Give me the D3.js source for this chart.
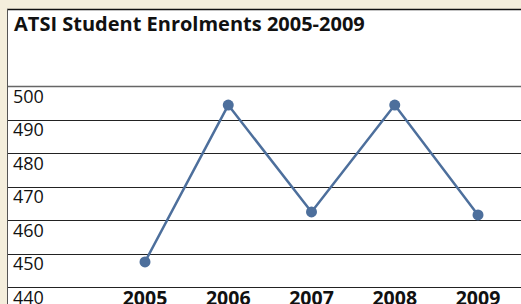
<!DOCTYPE html>
<html>
<head>
<meta charset="utf-8">
<script src="https://cdn.jsdelivr.net/npm/d3@7"></script>
<style>
  html, body { margin: 0; padding: 0; background: #fff; }
  svg { display: block; }
  .tick-label { font-family: "Open Sans", "DejaVu Sans", sans-serif; font-size: 18px; fill: #111; }
  .year-label { font-family: "Open Sans", "DejaVu Sans", sans-serif; font-size: 19.5px; font-weight: bold; fill: #111; }
  .title { font-family: "Open Sans", "DejaVu Sans", sans-serif; font-size: 20px; font-weight: bold; fill: #111; }
</style>
</head>
<body>
<div id="chart"></div>
<script>
const years = ["2005", "2006", "2007", "2008", "2009"];
const enrolments = [447.5, 494.3, 462.4, 494.3, 461.5];
const yTicks = [440, 450, 460, 470, 480, 490, 500];
const title = "ATSI Student Enrolments 2005-2009";

const dims = { width: 521, height: 304 };

const x = d3.scalePoint()
  .domain(years)
  .range([145, 478]);

const y = d3.scaleLinear()
  .domain([440, 500])
  .range([287, 86]);

const svg = d3.select("#chart").append("svg")
  .attr("width", dims.width)
  .attr("height", dims.height);

// beige frame bands (top and left)
svg.append("rect").attr("x", 0).attr("y", 0).attr("width", dims.width).attr("height", 9).attr("fill", "#f4eedc");
svg.append("rect").attr("x", 0).attr("y", 0).attr("width", 7).attr("height", dims.height).attr("fill", "#f4eedc");
svg.append("line").attr("x1", 7).attr("x2", dims.width).attr("y1", 9.5).attr("y2", 9.5)
  .attr("stroke", "#111").attr("stroke-width", 1.5);
svg.append("line").attr("x1", 7.5).attr("x2", 7.5).attr("y1", 9).attr("y2", dims.height)
  .attr("stroke", "#555").attr("stroke-width", 1);

svg.append("text")
  .attr("class", "title")
  .attr("x", 14)
  .attr("y", 31)
  .text(title);

// gridlines with labels sitting under each line
const grid = svg.append("g");
grid.selectAll("line")
  .data(yTicks)
  .join("line")
  .attr("x1", 8)
  .attr("x2", dims.width)
  .attr("y1", (d) => Math.round(y(d)) + 0.5)
  .attr("y2", (d) => Math.round(y(d)) + 0.5)
  .attr("stroke", (d) => d === 500 ? "#666" : "#222")
  .attr("stroke-width", (d) => d === 500 ? 1.5 : 1);

grid.selectAll("text")
  .data(yTicks)
  .join("text")
  .attr("class", "tick-label")
  .attr("x", 13)
  .attr("y", (d) => y(d) + 16.5)
  .text((d) => d);

svg.append("g")
  .selectAll("text")
  .data(years)
  .join("text")
  .attr("class", "year-label")
  .attr("x", (d) => x(d))
  .attr("y", y(440) + 18)
  .attr("text-anchor", "middle")
  .text((d) => d);

const points = years.map((yr, i) => ({ year: yr, value: enrolments[i] }));

svg.append("path")
  .datum(points)
  .attr("fill", "none")
  .attr("stroke", "#4d6f9c")
  .attr("stroke-width", 2.5)
  .attr("d", d3.line().x((d) => x(d.year)).y((d) => y(d.value)));

svg.append("g")
  .selectAll("circle")
  .data(points)
  .join("circle")
  .attr("cx", (d) => x(d.year))
  .attr("cy", (d) => y(d.value))
  .attr("r", 5.5)
  .attr("fill", "#4d6f9c");
</script>
</body>
</html>
